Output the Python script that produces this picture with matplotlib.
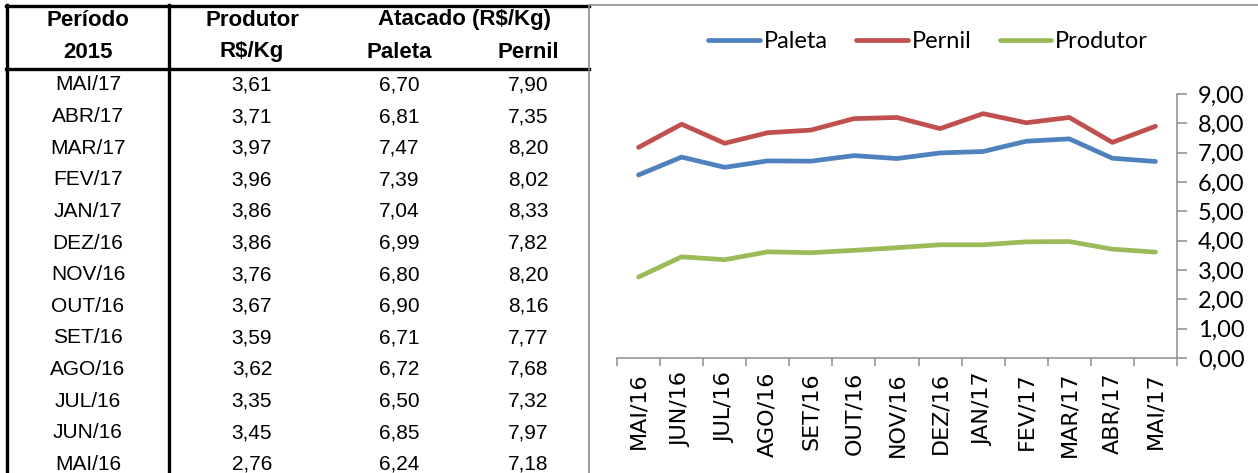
import matplotlib
matplotlib.use("Agg")
import matplotlib.pyplot as plt
from matplotlib.lines import Line2D
from matplotlib.ticker import FixedLocator, FuncFormatter

# ---------------- data ----------------
table_periods = ["MAI/17", "ABR/17", "MAR/17", "FEV/17", "JAN/17", "DEZ/16", "NOV/16",
                 "OUT/16", "SET/16", "AGO/16", "JUL/16", "JUN/16", "MAI/16"]
produtor = [3.61, 3.71, 3.97, 3.96, 3.86, 3.86, 3.76, 3.67, 3.59, 3.62, 3.35, 3.45, 2.76]
paleta = [6.70, 6.81, 7.47, 7.39, 7.04, 6.99, 6.80, 6.90, 6.71, 6.72, 6.50, 6.85, 6.24]
pernil = [7.90, 7.35, 8.20, 8.02, 8.33, 7.82, 8.20, 8.16, 7.77, 7.68, 7.32, 7.97, 7.18]
y_ticks = [0, 1, 2, 3, 4, 5, 6, 7, 8, 9]

# chart uses chronological order
chart_periods = table_periods[::-1]
chart_paleta = paleta[::-1]
chart_pernil = pernil[::-1]
chart_produtor = produtor[::-1]

W, H = 1258, 473
fig = plt.figure(figsize=(W / 100, H / 100), dpi=100)


def fx(px):
    return px / W


def fy(py):
    return 1 - py / H


def fmt(v):
    return f"{v:.2f}".replace(".", ",")


# ---------------- table ----------------
tfont = dict(family="Liberation Sans", color="black", ha="center", va="center")
hsize, dsize = 16, 15
col_x = [88, 252, 399, 528]
hdr_y = [20, 52]
fig.text(fx(col_x[0]), fy(hdr_y[0]), "Período", fontweight="bold", fontsize=hsize, **tfont)
fig.text(fx(col_x[1]), fy(hdr_y[0]), "Produtor", fontweight="bold", fontsize=hsize, **tfont)
fig.text(fx(465), fy(hdr_y[0]), "Atacado (R$/Kg)", fontweight="bold", fontsize=hsize, **tfont)
fig.text(fx(col_x[0]), fy(hdr_y[1]), "2015", fontweight="bold", fontsize=hsize, **tfont)
fig.text(fx(col_x[1]), fy(hdr_y[1]), "R$/Kg", fontweight="bold", fontsize=hsize, **tfont)
fig.text(fx(col_x[2]), fy(hdr_y[1]), "Paleta", fontweight="bold", fontsize=hsize, **tfont)
fig.text(fx(col_x[3]), fy(hdr_y[1]), "Pernil", fontweight="bold", fontsize=hsize, **tfont)

row0, row_step = 85, 31.6
for i, per in enumerate(table_periods):
    y = fy(row0 + i * row_step)
    fig.text(fx(col_x[0]), y, per, fontsize=dsize, **tfont)
    fig.text(fx(col_x[1]), y, fmt(produtor[i]), fontsize=dsize, **tfont)
    fig.text(fx(col_x[2]), y, fmt(paleta[i]), fontsize=dsize, **tfont)
    fig.text(fx(col_x[3]), y, fmt(pernil[i]), fontsize=dsize, **tfont)

lw_thick = 2.4
fig.add_artist(Line2D([fx(7), fx(7)], [fy(5.5), fy(H)], color="black", lw=lw_thick))
fig.add_artist(Line2D([fx(169), fx(169)], [fy(5.5), fy(H)], color="black", lw=lw_thick))
fig.add_artist(Line2D([fx(6), fx(589)], [fy(6.5), fy(6.5)], color="black", lw=lw_thick))
fig.add_artist(Line2D([fx(6), fx(589)], [fy(69.5), fy(69.5)], color="black", lw=lw_thick))

# chart border (gray)
fig.add_artist(Line2D([fx(589), fx(589)], [fy(5), fy(H)], color="#8c8c8c", lw=1.2))
fig.add_artist(Line2D([fx(589), fx(W)], [fy(5), fy(5)], color="#8c8c8c", lw=1.2))

# ---------------- chart ----------------
left, right, bottom, top = 617, 1177, 358, 94
ax = fig.add_axes([fx(left), fy(bottom), fx(right - left), fy(top) - fy(bottom)])
x = list(range(len(chart_periods)))
lw = 3.4
ax.plot(x, chart_paleta, color="#4F81BD", lw=lw, label="Paleta", solid_capstyle="round")
ax.plot(x, chart_pernil, color="#C0504D", lw=lw, label="Pernil", solid_capstyle="round")
ax.plot(x, chart_produtor, color="#9BBB59", lw=lw, label="Produtor", solid_capstyle="round")

ax.set_xlim(-0.5, len(chart_periods) - 0.5)
ax.set_ylim(0, 9)
for s in ["top", "left"]:
    ax.spines[s].set_visible(False)
for s in ["bottom", "right"]:
    ax.spines[s].set_color("#8c8c8c")
    ax.spines[s].set_linewidth(1.1)

ax.yaxis.tick_right()
ax.yaxis.set_major_locator(FixedLocator(y_ticks))
ax.yaxis.set_major_formatter(FuncFormatter(lambda v, p: fmt(v)))
ax.tick_params(axis="y", direction="out", length=7, width=1.1, color="#8c8c8c", pad=8,
               labelsize=17)
for lab in ax.get_yticklabels():
    lab.set_family("Lato")

# x ticks at category boundaries, labels at centers
ax.set_xticks([i - 0.5 for i in range(len(chart_periods) + 1)])
ax.set_xticklabels([])
ax.set_xticks(x, minor=True)
ax.set_xticklabels(chart_periods, minor=True, rotation=90,
                   fontfamily="DejaVu Sans", fontsize=16)
ax.tick_params(axis="x", which="major", direction="out", length=6, width=1.1, color="#8c8c8c")
ax.tick_params(axis="x", which="minor", length=0, pad=10)

leg = fig.legend(loc="center", bbox_to_anchor=(fx(928), fy(42)), ncol=3, frameon=False,
                 handlelength=2.2, handletextpad=0.15, columnspacing=1.2,
                 prop={"family": "Lato", "size": 17})

fig.savefig("out.png", dpi=100)
